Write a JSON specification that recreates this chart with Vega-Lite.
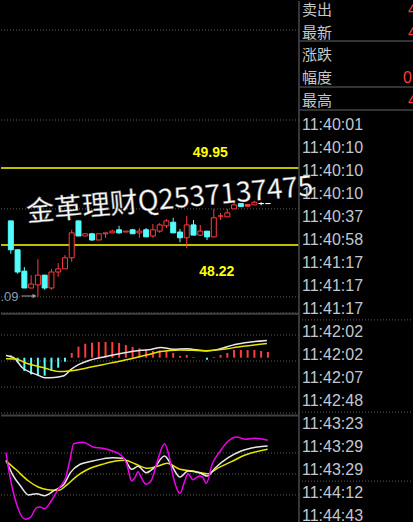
{
  "$schema": "https://vega.github.io/schema/vega-lite/v6.json",
  "background": "#000000",
  "padding": 0,
  "spacing": 0,
  "bounds": "flush",
  "config": {"view": {"stroke": null}, "concat": {"spacing": 0}},
  "datasets": {
    "candles": [
      {"i":0,"o":48.76,"c":48.11,"h":48.76,"l":48.02,"d":"down"},
      {"i":1,"o":48.11,"c":47.61,"h":48.11,"l":47.57,"d":"down"},
      {"i":2,"o":47.63,"c":47.25,"h":47.72,"l":47.25,"d":"down"},
      {"i":3,"o":47.25,"c":47.34,"h":47.54,"l":47.25,"d":"up"},
      {"i":4,"o":47.32,"c":47.54,"h":47.90,"l":47.05,"d":"up"},
      {"i":5,"o":47.54,"c":47.25,"h":47.54,"l":47.21,"d":"down"},
      {"i":6,"o":47.25,"c":47.61,"h":47.68,"l":47.21,"d":"up"},
      {"i":7,"o":47.61,"c":47.68,"h":47.81,"l":47.50,"d":"up"},
      {"i":8,"o":47.68,"c":47.93,"h":47.99,"l":47.68,"d":"up"},
      {"i":9,"o":47.93,"c":48.49,"h":48.56,"l":47.84,"d":"up"},
      {"i":10,"o":48.76,"c":48.42,"h":48.76,"l":48.42,"d":"down"},
      {"i":11,"o":48.42,"c":48.47,"h":48.47,"l":48.42,"d":"up"},
      {"i":12,"o":48.47,"c":48.33,"h":48.49,"l":48.31,"d":"down"},
      {"i":13,"o":48.33,"c":48.47,"h":48.47,"l":48.33,"d":"up"},
      {"i":14,"o":48.47,"c":48.49,"h":48.49,"l":48.38,"d":"up"},
      {"i":15,"o":48.49,"c":48.53,"h":48.56,"l":48.49,"d":"up"},
      {"i":16,"o":48.56,"c":48.49,"h":48.65,"l":48.47,"d":"down"},
      {"i":17,"o":48.51,"c":48.53,"h":48.53,"l":48.51,"d":"up"},
      {"i":18,"o":48.56,"c":48.47,"h":48.58,"l":48.47,"d":"down"},
      {"i":19,"o":48.49,"c":48.53,"h":48.60,"l":48.38,"d":"up"},
      {"i":20,"o":48.56,"c":48.40,"h":48.60,"l":48.40,"d":"down"},
      {"i":21,"o":48.42,"c":48.56,"h":48.69,"l":48.38,"d":"up"},
      {"i":22,"o":48.53,"c":48.67,"h":48.71,"l":48.49,"d":"up"},
      {"i":23,"o":48.65,"c":48.76,"h":48.80,"l":48.60,"d":"up"},
      {"i":24,"o":48.73,"c":48.49,"h":48.83,"l":48.49,"d":"down"},
      {"i":25,"o":48.51,"c":48.38,"h":48.58,"l":48.28,"d":"down"},
      {"i":26,"o":48.38,"c":48.67,"h":48.87,"l":48.15,"d":"up"},
      {"i":27,"o":48.67,"c":48.44,"h":48.78,"l":48.44,"d":"down"},
      {"i":28,"o":48.44,"c":48.53,"h":48.67,"l":48.42,"d":"up"},
      {"i":29,"o":48.53,"c":48.40,"h":48.53,"l":48.33,"d":"down"},
      {"i":30,"o":48.40,"c":48.83,"h":49.03,"l":48.40,"d":"up"},
      {"i":31,"o":48.87,"c":48.87,"h":48.94,"l":48.78,"d":"up"},
      {"i":32,"o":48.85,"c":48.94,"h":49.03,"l":48.85,"d":"up"},
      {"i":33,"o":49.03,"c":49.12,"h":49.19,"l":49.03,"d":"up"},
      {"i":34,"o":49.15,"c":49.08,"h":49.15,"l":49.08,"d":"down"},
      {"i":35,"o":49.09,"c":49.13,"h":49.13,"l":49.09,"d":"upf"},
      {"i":36,"o":49.12,"c":49.18,"h":49.21,"l":49.12,"d":"up"},
      {"i":37,"o":49.15,"c":49.15,"h":49.18,"l":49.11,"d":"flat"},
      {"i":38,"o":49.15,"c":49.15,"h":49.15,"l":49.15,"d":"flat"}
    ],
    "hist": [
      {"i":0,"v":0.027,"sg":"pos"},{"i":1,"v":-0.047,"sg":"neg"},{"i":2,"v":-0.133,"sg":"neg"},{"i":3,"v":-0.167,"sg":"neg"},{"i":4,"v":-0.173,"sg":"neg"},
      {"i":5,"v":-0.18,"sg":"neg"},{"i":6,"v":-0.133,"sg":"neg"},{"i":7,"v":-0.10,"sg":"neg"},{"i":8,"v":-0.04,"sg":"neg"},{"i":9,"v":0.047,"sg":"pos"},
      {"i":10,"v":0.11,"sg":"pos"},{"i":11,"v":0.14,"sg":"pos"},{"i":12,"v":0.15,"sg":"pos"},{"i":13,"v":0.157,"sg":"pos"},{"i":14,"v":0.157,"sg":"pos"},
      {"i":15,"v":0.157,"sg":"pos"},{"i":16,"v":0.147,"sg":"pos"},{"i":17,"v":0.127,"sg":"pos"},{"i":18,"v":0.107,"sg":"pos"},{"i":19,"v":0.093,"sg":"pos"},
      {"i":20,"v":0.077,"sg":"pos"},{"i":21,"v":0.067,"sg":"pos"},{"i":22,"v":0.073,"sg":"pos"},{"i":23,"v":0.073,"sg":"pos"},{"i":24,"v":0.047,"sg":"pos"},
      {"i":25,"v":0.017,"sg":"pos"},{"i":26,"v":0.027,"sg":"pos"},{"i":27,"v":0.007,"sg":"pos"},{"i":28,"v":0,"sg":"pos"},{"i":29,"v":-0.02,"sg":"neg"},
      {"i":30,"v":0.007,"sg":"pos"},{"i":31,"v":0.027,"sg":"pos"},{"i":32,"v":0.047,"sg":"pos"},{"i":33,"v":0.077,"sg":"pos"},{"i":34,"v":0.077,"sg":"pos"},
      {"i":35,"v":0.077,"sg":"pos"},{"i":36,"v":0.077,"sg":"pos"},{"i":37,"v":0.067,"sg":"pos"},{"i":38,"v":0.057,"sg":"pos"}
    ],
    "macdlines": [
      {"s":"DIF","x":-0.71,"v":0.023},{"s":"DIF","x":0.43,"v":0},{"s":"DIF","x":1.71,"v":-0.10},
      {"s":"DIF","x":2.86,"v":-0.145},{"s":"DIF","x":3.86,"v":-0.17},{"s":"DIF","x":5.0,"v":-0.20},
      {"s":"DIF","x":6.43,"v":-0.197},{"s":"DIF","x":7.86,"v":-0.18},{"s":"DIF","x":8.86,"v":-0.12},
      {"s":"DIF","x":10.0,"v":-0.07},{"s":"DIF","x":11.43,"v":-0.03},{"s":"DIF","x":13.57,"v":0.005},
      {"s":"DIF","x":16.43,"v":0.045},{"s":"DIF","x":19.29,"v":0.075},{"s":"DIF","x":20.71,"v":0.083},
      {"s":"DIF","x":22.14,"v":0.103},{"s":"DIF","x":24.0,"v":0.085},{"s":"DIF","x":26.0,"v":0.09},
      {"s":"DIF","x":28.86,"v":0.067},{"s":"DIF","x":30.71,"v":0.085},{"s":"DIF","x":33.14,"v":0.133},
      {"s":"DIF","x":35.43,"v":0.157},{"s":"DIF","x":37.86,"v":0.173},
      {"s":"DEA","x":-0.71,"v":-0.01},{"s":"DEA","x":0.71,"v":-0.013},{"s":"DEA","x":2.14,"v":-0.05},
      {"s":"DEA","x":5.0,"v":-0.103},{"s":"DEA","x":7.14,"v":-0.138},{"s":"DEA","x":8.57,"v":-0.133},
      {"s":"DEA","x":10.71,"v":-0.11},{"s":"DEA","x":13.57,"v":-0.07},{"s":"DEA","x":16.43,"v":-0.03},
      {"s":"DEA","x":19.29,"v":0.015},{"s":"DEA","x":20.71,"v":0.038},{"s":"DEA","x":22.14,"v":0.062},
      {"s":"DEA","x":25.0,"v":0.078},{"s":"DEA","x":28.86,"v":0.07},{"s":"DEA","x":31.71,"v":0.087},
      {"s":"DEA","x":33.57,"v":0.107},{"s":"DEA","x":37.86,"v":0.143}
    ],
    "kdj": [
      {"s":"D","x":-0.71,"v":68.6},{"s":"D","x":0.71,"v":56.7},{"s":"D","x":2.61,"v":40},{"s":"D","x":4.04,"v":31.4},
      {"s":"D","x":5.47,"v":27.6},{"s":"D","x":7.14,"v":26.7},{"s":"D","x":8.1,"v":32.9},{"s":"D","x":9.76,"v":47.1},
      {"s":"D","x":11.19,"v":55.7},{"s":"D","x":13.57,"v":63.9},{"s":"D","x":15.47,"v":68.6},{"s":"D","x":16.9,"v":69.6},
      {"s":"D","x":18.33,"v":64.7},{"s":"D","x":20.24,"v":58.1},{"s":"D","x":21.67,"v":61},{"s":"D","x":23.1,"v":65.3},
      {"s":"D","x":25.0,"v":56.7},{"s":"D","x":26.9,"v":54.3},{"s":"D","x":29.04,"v":50.4},{"s":"D","x":30.71,"v":59},
      {"s":"D","x":32.61,"v":67.6},{"s":"D","x":34.53,"v":76.7},{"s":"D","x":37.96,"v":85.3},
      {"s":"K","x":-0.71,"v":69.6},{"s":"K","x":0.24,"v":49.6},{"s":"K","x":1.43,"v":32.9},{"s":"K","x":2.61,"v":20},
      {"s":"K","x":3.81,"v":21.9},{"s":"K","x":5.0,"v":19},{"s":"K","x":6.43,"v":26.7},{"s":"K","x":7.86,"v":35.3},
      {"s":"K","x":8.81,"v":51.9},{"s":"K","x":10.24,"v":63.9},{"s":"K","x":12.14,"v":68.6},{"s":"K","x":15.0,"v":73.3},
      {"s":"K","x":16.67,"v":72.4},{"s":"K","x":17.86,"v":56.7},{"s":"K","x":18.81,"v":61},{"s":"K","x":20.0,"v":51.9},
      {"s":"K","x":21.19,"v":59},{"s":"K","x":22.71,"v":75.7},{"s":"K","x":23.81,"v":61.4},{"s":"K","x":25.0,"v":45.7},
      {"s":"K","x":26.19,"v":54.3},{"s":"K","x":27.86,"v":51.9},{"s":"K","x":29.04,"v":47.1},{"s":"K","x":30.24,"v":59},
      {"s":"K","x":32.14,"v":73.3},{"s":"K","x":34.04,"v":82.9},{"s":"K","x":36.43,"v":88.6},{"s":"K","x":37.96,"v":90},
      {"s":"J","x":-0.71,"v":80.4},{"s":"J","x":-0.24,"v":51.9},{"s":"J","x":0.71,"v":11.4},{"s":"J","x":2.14,"v":-14.7},
      {"s":"J","x":2.86,"v":-12.4},{"s":"J","x":3.81,"v":1.9},{"s":"J","x":4.29,"v":2.9},{"s":"J","x":5.0,"v":0.4},
      {"s":"J","x":5.96,"v":11.4},{"s":"J","x":7.14,"v":30.4},{"s":"J","x":8.1,"v":44.7},{"s":"J","x":8.81,"v":73.3},
      {"s":"J","x":9.29,"v":93.3},{"s":"J","x":10.71,"v":95.3},{"s":"J","x":12.14,"v":88.6},{"s":"J","x":13.57,"v":86.7},
      {"s":"J","x":15.0,"v":82.9},{"s":"J","x":16.43,"v":75.7},{"s":"J","x":17.14,"v":63.9},{"s":"J","x":17.86,"v":40},
      {"s":"J","x":18.33,"v":44.7},{"s":"J","x":18.81,"v":53.3},{"s":"J","x":19.29,"v":44.7},{"s":"J","x":20.0,"v":35.3},
      {"s":"J","x":20.71,"v":40},{"s":"J","x":21.67,"v":68.6},{"s":"J","x":22.71,"v":93.3},{"s":"J","x":23.33,"v":78.1},
      {"s":"J","x":24.04,"v":44.7},{"s":"J","x":25.0,"v":22.4},{"s":"J","x":25.71,"v":40},{"s":"J","x":26.19,"v":50.4},
      {"s":"J","x":26.9,"v":41.9},{"s":"J","x":27.86,"v":47.1},{"s":"J","x":28.33,"v":45.7},{"s":"J","x":28.9,"v":36.7},
      {"s":"J","x":29.76,"v":63.9},{"s":"J","x":30.96,"v":82.9},{"s":"J","x":32.14,"v":97.1},{"s":"J","x":33.33,"v":102.9},
      {"s":"J","x":34.76,"v":99.6},{"s":"J","x":35.96,"v":101},{"s":"J","x":37.14,"v":100},{"s":"J","x":37.96,"v":98.1}
    ],
    "panel": [
      {"row":0,"t":"卖出","k":"label"},
      {"row":0.974,"t":"最新","k":"label"},
      {"row":1.943,"t":"涨跌","k":"label"},
      {"row":2.957,"t":"幅度","k":"label"},
      {"row":3.943,"t":"最高","k":"label"},
      {"row":5,"t":"11:40:01","k":"time"},
      {"row":6,"t":"11:40:10","k":"time"},
      {"row":7,"t":"11:40:10","k":"time"},
      {"row":8,"t":"11:40:10","k":"time"},
      {"row":9,"t":"11:40:37","k":"time"},
      {"row":10,"t":"11:40:58","k":"time"},
      {"row":11,"t":"11:41:17","k":"time"},
      {"row":12,"t":"11:41:17","k":"time"},
      {"row":13,"t":"11:41:17","k":"time"},
      {"row":14,"t":"11:42:02","k":"time"},
      {"row":15,"t":"11:42:02","k":"time"},
      {"row":16,"t":"11:42:07","k":"time"},
      {"row":17,"t":"11:42:48","k":"time"},
      {"row":18,"t":"11:43:23","k":"time"},
      {"row":19,"t":"11:43:29","k":"time"},
      {"row":20,"t":"11:43:29","k":"time"},
      {"row":21,"t":"11:44:12","k":"time"},
      {"row":22,"t":"11:44:43","k":"time"}
    ]
  },
  "hconcat": [
    {
      "width": 298,
      "height": 522,
      "resolve": {"scale": {"y": "independent", "color": "independent", "fill": "independent", "stroke": "independent"}},
      "layer": [
        {
          "data": {"values": [{"p":53.055},{"p":51.03},{"p":49.03},{"p":47.05}]},
          "mark": {"type":"rule","color":"#5c5c5c","strokeDash":[1,2],"strokeWidth":1},
          "encoding": {"y": {"field":"p","type":"quantitative","scale":{"domain":[41.9625,53.7075],"nice":false,"zero":false},"axis":null}}
        },
        {
          "data": {"values": [{"p":49.95},{"p":48.2175}]},
          "mark": {"type":"rule","color":"#ffff00","strokeWidth":1.5},
          "encoding": {"y": {"field":"p","type":"quantitative","scale":{"domain":[41.9625,53.7075],"nice":false,"zero":false},"axis":null}}
        },
        {
          "data": {"values": [{"i":29.47,"p":50.28,"t":"49.95"},{"i":30.45,"p":47.61,"t":"48.22"}]},
          "mark": {"type":"text","color":"#ffff00","font":"Liberation Sans","fontWeight":"bold","fontSize":14,"align":"center","baseline":"middle"},
          "encoding": {
            "x": {"field":"i","type":"quantitative","scale":{"domain":[-0.714,41.857],"nice":false,"zero":false},"axis":null},
            "y": {"field":"p","type":"quantitative","scale":{"domain":[41.9625,53.7075],"nice":false,"zero":false},"axis":null},
            "text": {"field":"t"}
          }
        },
        {
          "data": {"name":"candles"},
          "mark": {"type":"rule","strokeWidth":1},
          "encoding": {
            "x": {"field":"i","type":"quantitative","scale":{"domain":[-0.714,41.857],"nice":false,"zero":false},"axis":null},
            "y": {"field":"l","type":"quantitative","scale":{"domain":[41.9625,53.7075],"nice":false,"zero":false},"axis":null},
            "y2": {"field":"h"},
            "color": {"field":"d","type":"nominal","scale":{"domain":["up","down","upf","flat"],"range":["#ff3c3c","#54fcfc","#ff3c3c","#ffffff"]},"legend":null}
          }
        },
        {
          "data": {"name":"candles"},
          "mark": {"type":"bar","size":5,"strokeWidth":1},
          "encoding": {
            "x": {"field":"i","type":"quantitative","scale":{"domain":[-0.714,41.857],"nice":false,"zero":false},"axis":null},
            "y": {"field":"o","type":"quantitative","scale":{"domain":[41.9625,53.7075],"nice":false,"zero":false},"axis":null},
            "y2": {"field":"c"},
            "fill": {"field":"d","type":"nominal","scale":{"domain":["up","down","upf","flat"],"range":["#000000","#54fcfc","#ff3c3c","#ffffff"]},"legend":null},
            "stroke": {"field":"d","type":"nominal","scale":{"domain":["up","down","upf","flat"],"range":["#ff3c3c","#54fcfc","#ff3c3c","#ffffff"]},"legend":null}
          }
        },
        {
          "data": {"values": [{"i":1.57,"p":47.07},{"i":3.43,"p":47.07}]},
          "mark": {"type":"line","color":"#a0a0a0","strokeWidth":1},
          "encoding": {
            "x": {"field":"i","type":"quantitative","scale":{"domain":[-0.714,41.857],"nice":false,"zero":false},"axis":null},
            "y": {"field":"p","type":"quantitative","scale":{"domain":[41.9625,53.7075],"nice":false,"zero":false},"axis":null}
          }
        },
        {
          "data": {"values": [{"i":3.5,"p":47.07}]},
          "mark": {"type":"point","shape":"triangle-right","filled":true,"color":"#a0a0a0","size":22,"opacity":1},
          "encoding": {
            "x": {"field":"i","type":"quantitative","scale":{"domain":[-0.714,41.857],"nice":false,"zero":false},"axis":null},
            "y": {"field":"p","type":"quantitative","scale":{"domain":[41.9625,53.7075],"nice":false,"zero":false},"axis":null}
          }
        },
        {
          "data": {"values": [{"i":1.143,"p":47.05,"t":"47.09"}]},
          "mark": {"type":"text","color":"#8c9bb0","font":"Liberation Sans","fontSize":13,"align":"right","baseline":"middle","clip":true},
          "encoding": {
            "x": {"field":"i","type":"quantitative","scale":{"domain":[-0.714,41.857],"nice":false,"zero":false},"axis":null},
            "y": {"field":"p","type":"quantitative","scale":{"domain":[41.9625,53.7075],"nice":false,"zero":false},"axis":null},
            "text": {"field":"t"}
          }
        },
        {
          "data": {"values": [{"v":0.447},{"v":0.227},{"v":-0.033},{"v":-0.293},{"v":-0.553}]},
          "mark": {"type":"rule","color":"#5c5c5c","strokeDash":[1,2],"strokeWidth":1},
          "encoding": {"y": {"field":"v","type":"quantitative","scale":{"domain":[-1.653,3.567],"nice":false,"zero":false},"axis":null}}
        },
        {
          "data": {"values": [{"v":0.44}]},
          "mark": {"type":"rule","color":"#404040","strokeWidth":2},
          "encoding": {"y": {"field":"v","type":"quantitative","scale":{"domain":[-1.653,3.567],"nice":false,"zero":false},"axis":null}}
        },
        {
          "data": {"name":"hist"},
          "mark": {"type":"rule","strokeWidth":2},
          "encoding": {
            "x": {"field":"i","type":"quantitative","scale":{"domain":[-0.714,41.857],"nice":false,"zero":false},"axis":null},
            "y": {"field":"v","type":"quantitative","scale":{"domain":[-1.653,3.567],"nice":false,"zero":false},"axis":null},
            "y2": {"datum":0},
            "color": {"field":"sg","type":"nominal","scale":{"domain":["pos","neg"],"range":["#ff3c3c","#54fcfc"]},"legend":null}
          }
        },
        {
          "data": {"name":"macdlines"},
          "mark": {"type":"line","strokeWidth":1.5,"interpolate":"monotone"},
          "encoding": {
            "x": {"field":"x","type":"quantitative","scale":{"domain":[-0.714,41.857],"nice":false,"zero":false},"axis":null},
            "y": {"field":"v","type":"quantitative","scale":{"domain":[-1.653,3.567],"nice":false,"zero":false},"axis":null},
            "color": {"field":"s","type":"nominal","scale":{"domain":["DIF","DEA"],"range":["#e8e8e8","#e6e600"]},"legend":null}
          }
        },
        {
          "data": {"values": [{"v":80},{"v":50},{"v":20}]},
          "mark": {"type":"rule","color":"#5c5c5c","strokeDash":[1,2],"strokeWidth":1},
          "encoding": {"y": {"field":"v","type":"quantitative","scale":{"domain":[-20,725.7],"nice":false,"zero":false},"axis":null}}
        },
        {
          "data": {"values": [{"v":133.6}]},
          "mark": {"type":"rule","color":"#404040","strokeWidth":2},
          "encoding": {"y": {"field":"v","type":"quantitative","scale":{"domain":[-20,725.7],"nice":false,"zero":false},"axis":null}}
        },
        {
          "data": {"name":"kdj"},
          "mark": {"type":"line","strokeWidth":1.5,"interpolate":"monotone"},
          "encoding": {
            "x": {"field":"x","type":"quantitative","scale":{"domain":[-0.714,41.857],"nice":false,"zero":false},"axis":null},
            "y": {"field":"v","type":"quantitative","scale":{"domain":[-20,725.7],"nice":false,"zero":false},"axis":null},
            "color": {"field":"s","type":"nominal","scale":{"domain":["K","D","J"],"range":["#e8e8e8","#e6e600","#ee00ee"]},"legend":null}
          }
        },
        {
          "data": {"values": [{"i":2.3,"p":48.92,"t":"金革理财Q2537137475"}]},
          "mark": {"type":"text","color":"#ffffff","font":"Noto Sans CJK SC","fontSize":28,"align":"left","baseline":"middle","angle":-5.3,"stroke":"#707070","strokeWidth":0.4},
          "encoding": {
            "x": {"field":"i","type":"quantitative","scale":{"domain":[-0.714,41.857],"nice":false,"zero":false},"axis":null},
            "y": {"field":"p","type":"quantitative","scale":{"domain":[41.9625,53.7075],"nice":false,"zero":false},"axis":null},
            "text": {"field":"t"}
          }
        }
      ]
    },
    {
      "width": 115,
      "height": 522,
      "layer": [
        {
          "data": {"values": [{"r":1.335},{"r":3.335},{"r":4.335}]},
          "mark": {"type":"rule","color":"#444444","strokeWidth":1.5},
          "encoding": {"y": {"field":"r","type":"quantitative","scale":{"domain":[-0.404,22.291],"nice":false,"zero":false,"reverse":true},"axis":null}}
        },
        {
          "data": {"values": [{"r":13.46},{"r":17.47},{"r":20.47}]},
          "mark": {"type":"rule","color":"#5c5c5c","strokeDash":[1,2],"strokeWidth":1},
          "encoding": {"y": {"field":"r","type":"quantitative","scale":{"domain":[-0.404,22.291],"nice":false,"zero":false,"reverse":true},"axis":null}}
        },
        {
          "data": {"values": [{"c":0}]},
          "mark": {"type":"rule","color":"#484848","strokeWidth":1.5},
          "encoding": {"x": {"field":"c","type":"quantitative","scale":{"domain":[0,115],"nice":false,"zero":false},"axis":null}}
        },
        {
          "data": {"name":"panel"},
          "transform": [{"filter":"datum.k == 'label'"}],
          "mark": {"type":"text","color":"#c8c8c8","font":"Noto Sans CJK SC","fontSize":15,"align":"left","baseline":"middle"},
          "encoding": {
            "x": {"datum":3,"type":"quantitative","scale":{"domain":[0,115],"nice":false,"zero":false},"axis":null},
            "y": {"field":"row","type":"quantitative","scale":{"domain":[-0.404,22.291],"nice":false,"zero":false,"reverse":true},"axis":null},
            "text": {"field":"t"}
          }
        },
        {
          "data": {"name":"panel"},
          "transform": [{"filter":"datum.k == 'time'"}],
          "mark": {"type":"text","color":"#c0c8d2","font":"Liberation Sans","fontSize":16,"align":"left","baseline":"middle"},
          "encoding": {
            "x": {"datum":3,"type":"quantitative","scale":{"domain":[0,115],"nice":false,"zero":false},"axis":null},
            "y": {"field":"row","type":"quantitative","scale":{"domain":[-0.404,22.291],"nice":false,"zero":false,"reverse":true},"axis":null},
            "text": {"field":"t"}
          }
        },
        {
          "data": {"values": [{"c":109,"row":0,"t":"49.15"},{"c":109,"row":0.974,"t":"49.15"},{"c":104,"row":2.957,"t":"0.63%"},{"c":109,"row":3.943,"t":"49.21"}]},
          "mark": {"type":"text","color":"#ff3c3c","font":"Liberation Sans","fontSize":16,"align":"left","baseline":"middle","clip":true},
          "encoding": {
            "x": {"field":"c","type":"quantitative","scale":{"domain":[0,115],"nice":false,"zero":false},"axis":null},
            "y": {"field":"row","type":"quantitative","scale":{"domain":[-0.404,22.291],"nice":false,"zero":false,"reverse":true},"axis":null},
            "text": {"field":"t"}
          }
        }
      ]
    }
  ]
}
